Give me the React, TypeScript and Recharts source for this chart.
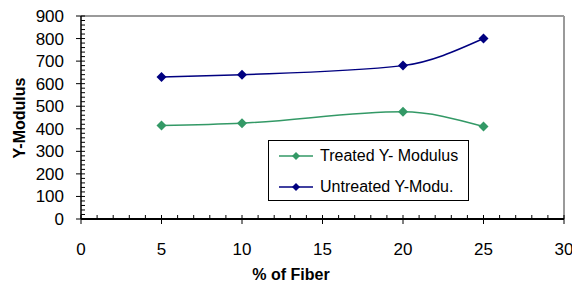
import React from 'react';
import { LineChart, Line, XAxis, YAxis, ReferenceLine, Legend } from 'recharts';

// valores
const fiberPercent = [5, 10, 20, 25];
const treatedModulus = [415, 425, 475, 410];
const untreatedModulus = [630, 640, 680, 800];

// rótulos: x a cada 5, y a cada 100; traços menores x a cada 1, y a cada 20
const xMajorStep = 5;
const yMajorStep = 100;
const xAllTicks = Array.from({ length: 31 }, (_, i) => i);
const yAllTicks = Array.from({ length: 46 }, (_, i) => i * 20);

const data = fiberPercent.map((f, i) => ({
  fiber: f,
  treated: treatedModulus[i],
  untreated: untreatedModulus[i],
}));

const FONT = '"Liberation Sans", Arial, sans-serif';
const GREEN = '#339966';
const NAVY = '#000080';

const diamondPath = (cx: number, cy: number, r: number) =>
  `M${cx},${cy - r}L${cx + r},${cy}L${cx},${cy + r}L${cx - r},${cy}Z`;

const diamond = (color: string) => (props: any) => {
  const { cx, cy, index } = props;
  if (cx == null || cy == null) return null;
  return <path key={`${color}-${index}`} d={diamondPath(cx, cy, 5)} fill={color} />;
};

// Tick do eixo X: traço maior cruzando o eixo + rótulo, traço menor só para dentro
const XTick = ({ x, y, payload }: any) => {
  const v = payload.value;
  if (v % xMajorStep !== 0) {
    return <line x1={x} y1={y - 4} x2={x} y2={y} stroke="#000" strokeWidth={1} />;
  }
  return (
    <g>
      <line x1={x} y1={y - 4} x2={x} y2={y + 5} stroke="#000" strokeWidth={1} />
      <text x={x} y={y + 36} textAnchor="middle" fontSize={17} fontFamily={FONT} fill="#000">
        {v}
      </text>
    </g>
  );
};

// Tick do eixo Y
const YTick = ({ x, y, payload }: any) => {
  const v = payload.value;
  if (v % yMajorStep !== 0) {
    return <line x1={x} y1={y} x2={x + 4} y2={y} stroke="#000" strokeWidth={1} />;
  }
  return (
    <g>
      <line x1={x - 5} y1={y} x2={x + 4} y2={y} stroke="#000" strokeWidth={1} />
      <text x={x - 17} y={y} dy="0.355em" textAnchor="end" fontSize={17} fontFamily={FONT} fill="#000">
        {v}
      </text>
    </g>
  );
};

const renderLegend = (props: any) => {
  const { payload = [] } = props;
  return (
    <div
      style={{
        width: 201,
        height: 61,
        border: '1px solid #000',
        boxSizing: 'border-box',
        background: '#fff',
        position: 'relative',
        fontFamily: FONT,
      }}
    >
      {payload.map((entry: any, i: number) => (
        <div
          key={entry.value}
          style={{
            position: 'absolute',
            left: 10,
            top: 5 + i * 31,
            height: 20,
            display: 'flex',
            alignItems: 'center',
            whiteSpace: 'nowrap',
            fontSize: 16,
            color: '#000',
          }}
        >
          <svg width={34} height={10}>
            <line x1={0} y1={5} x2={34} y2={5} stroke={entry.color} strokeWidth={1.5} />
            <path d={diamondPath(17, 5, 4)} fill={entry.color} />
          </svg>
          <span style={{ marginLeft: 7 }}>{entry.value}</span>
        </div>
      ))}
    </div>
  );
};

export default function App() {
  return (
    <div style={{ position: 'absolute', left: 0, top: 0, background: '#fff', fontFamily: FONT }}>
      <LineChart width={572} height={282} data={data} margin={{ top: 16, right: 8, left: 0, bottom: 0 }}>
        <XAxis
          dataKey="fiber"
          type="number"
          domain={[0, 30]}
          ticks={xAllTicks}
          interval={0}
          height={63}
          tickSize={0}
          tickMargin={0}
          axisLine={{ stroke: '#000', strokeWidth: 2 }}
          tickLine={false}
          tick={XTick}
          label={{
            content: () => (
              <text x={291} y={280} textAnchor="middle" fontSize={16} fontWeight="bold" fontFamily={FONT} fill="#000">
                % of Fiber
              </text>
            ),
          }}
        />
        <YAxis
          type="number"
          domain={[0, 900]}
          ticks={yAllTicks}
          interval={0}
          width={81}
          tickSize={0}
          tickMargin={0}
          axisLine={{ stroke: '#000', strokeWidth: 1.5 }}
          tickLine={false}
          tick={YTick}
          label={{
            content: () => (
              <text
                x={25}
                y={118}
                transform="rotate(-90, 25, 118)"
                textAnchor="middle"
                fontSize={16}
                fontWeight="bold"
                fontFamily={FONT}
                fill="#000"
              >
                Y-Modulus
              </text>
            ),
          }}
        />
        <ReferenceLine y={900} stroke="#9a9a9a" strokeWidth={2} />
        <ReferenceLine x={30} stroke="#9a9a9a" strokeWidth={2} />
        <Legend
          layout="vertical"
          align="center"
          verticalAlign="middle"
          content={renderLegend}
          wrapperStyle={{ left: 268, top: 140, width: 201, height: 61 }}
        />
        <Line
          type="monotone"
          dataKey="treated"
          name="Treated Y- Modulus"
          stroke={GREEN}
          strokeWidth={1.5}
          dot={diamond(GREEN)}
          activeDot={false}
          isAnimationActive={false}
        />
        <Line
          type="monotone"
          dataKey="untreated"
          name="Untreated Y-Modu."
          stroke={NAVY}
          strokeWidth={1.5}
          dot={diamond(NAVY)}
          activeDot={false}
          isAnimationActive={false}
        />
      </LineChart>
    </div>
  );
}
